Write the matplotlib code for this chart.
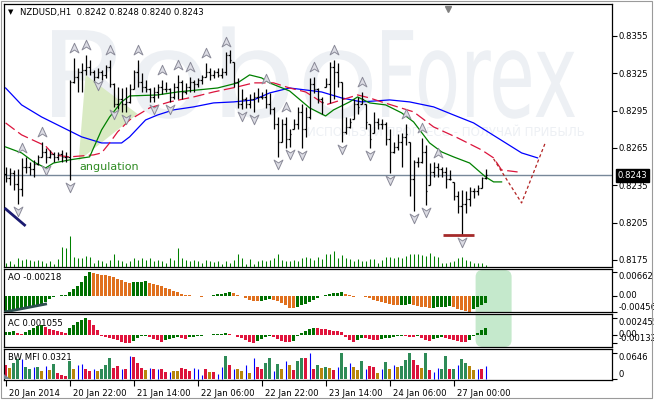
import numpy as np
import matplotlib
matplotlib.use("Agg")
import matplotlib.pyplot as plt
import matplotlib.transforms as mtransforms
from matplotlib.collections import LineCollection
from matplotlib.patches import Polygon, FancyBboxPatch, PathPatch
from matplotlib.textpath import TextPath
from matplotlib.font_manager import FontProperties
from matplotlib.path import Path

# ---------------- data ----------------
header = "NZDUSD,H1  0.8242 0.8248 0.8240 0.8243"
last_price = 0.8243
first_open = 0.8244

high = [.8250,.8249,.8247,.8248,.8257,.8258,.8254,.8255,.8259,.8270,
        .8265,.8263,.8262,.8262,.8263,.8262,.8320,.8337,.8329,.8333,
        .8340,.8336,.8328,.8329,.8328,.8332,.8336,.8317,.8314,.8313,
        .8314,.8316,.8328,.8336,.8325,.8320,.8313,.8314,.8316,.8320,
        .8318,.8313,.8317,.8324,.8320,.8317,.8322,.8320,.8321,.8324,
        .8333,.8329,.8328,.8329,.8329,.8342,.8344,.8334,.8321,.8312,
        .8306,.8308,.8310,.8313,.8310,.8312,.8309,.8298,.8290,.8288,
        .8290,.8280,.8288,.8298,.8300,.8298,.8321,.8322,.8313,.8306,
        .8321,.8334,.8336,.8333,.8318,.8290,.8289,.8304,.8306,.8310,
        .8300,.8284,.8294,.8289,.8288,.8286,.8280,.8270,.8276,.8277,
        .8284,.8270,.8255,.8258,.8273,.8267,.8253,.8254,.8253,.8250,
        .8250,.8247,.8238,.8230,.8231,.8230,.8234,.8233,.8235,.8242,
        .8248]
low = [.8238,.8235,.8231,.8220,.8226,.8245,.8243,.8242,.8251,.8258,
       .8253,.8257,.8254,.8255,.8254,.8254,.8239,.8317,.8310,.8310,
       .8324,.8324,.8318,.8321,.8320,.8321,.8314,.8298,.8296,.8294,
       .8294,.8301,.8312,.8314,.8310,.8310,.8302,.8302,.8305,.8308,
       .8310,.8302,.8304,.8304,.8304,.8308,.8310,.8310,.8314,.8316,
       .8322,.8320,.8321,.8322,.8321,.8324,.8333,.8314,.8297,.8296,
       .8297,.8297,.8294,.8302,.8304,.8297,.8292,.8280,.8258,.8270,
       .8265,.8266,.8280,.8280,.8265,.8274,.8288,.8309,.8301,.8292,
       .8314,.8301,.8304,.8314,.8270,.8276,.8281,.8288,.8292,.8300,
       .8280,.8265,.8277,.8280,.8280,.8267,.8245,.8261,.8263,.8250,
       .8267,.8226,.8214,.8250,.8253,.8219,.8235,.8242,.8242,.8242,
       .8233,.8239,.8223,.8213,.8195,.8213,.8218,.8225,.8227,.8233,
       .8240]
close = [.8241,.8245,.8236,.8232,.8250,.8250,.8248,.8252,.8258,.8262,
         .8258,.8260,.8258,.8260,.8258,.8258,.8318,.8322,.8326,.8328,
         .8330,.8326,.8322,.8326,.8324,.8330,.8316,.8300,.8304,.8300,
         .8302,.8312,.8326,.8318,.8314,.8312,.8306,.8310,.8314,.8312,
         .8312,.8306,.8314,.8318,.8310,.8314,.8318,.8316,.8320,.8322,
         .8326,.8324,.8326,.8324,.8326,.8340,.8336,.8318,.8300,.8304,
         .8300,.8304,.8306,.8306,.8306,.8300,.8296,.8284,.8270,.8284,
         .8272,.8276,.8284,.8294,.8280,.8290,.8316,.8312,.8304,.8302,
         .8316,.8330,.8326,.8318,.8278,.8282,.8286,.8300,.8298,.8304,
         .8286,.8272,.8286,.8284,.8284,.8272,.8262,.8266,.8270,.8274,
         .8276,.8240,.8254,.8254,.8262,.8230,.8246,.8250,.8248,.8246,
         .8240,.8240,.8226,.8218,.8220,.8224,.8230,.8230,.8233,.8241,
         .8243]
volume = [4,6,3,9,7,8,7,6,7,6, 4,6,3,8,20,19,31,10,9,9,
          11,10,4,7,6,4,7,13,7,6, 4,6,9,7,9,7,9,6,7,6,
          4,9,7,19,9,7,6,7,6,4, 7,6,5,6,3,6,4,7,13,9,
          3,8,3,6,7,6,7,9,13,7, 6,6,7,6,9,10,9,7,10,8,
          13,13,16,9,12,9,8,6,8,6, 6,8,8,4,7,10,10,9,10,9,
          11,13,13,13,12,11,14,11,10,4, 4,5,6,9,10,7,6,4,4,4, 2]

jaw_idx = [0,4,9,14,19,24,29,31,35,38,42,47,52,57,62,66,71,79,84,89,96,101,107,112,117,121,129,133]
jaw_val = [.83132,.82996,.82899,.82819,.82739,.82690,.82690,.82739,.82875,.82915,.82956,.82980,.83012,.83020,
           .83036,.83092,.83132,.83100,.83052,.83020,.83036,.83020,.82980,.82915,.82851,.82771,.82610,.82570]
teeth_idx = [0,4,10,12,16,22,24,26,28,31,36,41,47,52,58,62,67,71,75,77,80,84,88,91,94,98,102,107,113,119,122,124,128]
teeth_val = [.82851,.82755,.82666,.82594,.82578,.82594,.82610,.82690,.82779,.82875,.82972,.83020,.83060,.83100,
             .83141,.83173,.83173,.83132,.83100,.83060,.82996,.83036,.83076,.83052,.83020,.82980,.82940,.82819,
             .82731,.82634,.82570,.82473,.82457]
lips_idx = [0,4,7,10,12,16,21,24,26,29,31,38,43,48,53,58,61,64,66,71,76,80,82,86,88,91,95,99,102,106,109,112,116,118,120,122,124]
lips_val = [.82658,.82610,.82538,.82489,.82529,.82554,.82578,.82795,.82899,.83020,.83068,.83076,.83100,.83116,
            .83132,.83173,.83237,.83213,.83173,.83108,.82972,.82907,.82956,.83020,.83060,.83012,.82996,.82932,
            .82859,.82690,.82618,.82578,.82529,.82473,.82417,.82377,.82377]
forecast_idx = [122, 129, 135]
forecast_val = [.82562, .82208, .82698]

fractal_up = [4, 9, 17, 20, 26, 33, 39, 43, 46, 50, 55, 65, 70, 77, 82, 89, 100, 104, 108]
fractal_down = [3, 10, 16, 23, 27, 30, 37, 41, 59, 62, 68, 71, 74, 84, 91, 96, 102, 105, 114]

angulation_idx = [20, 18.25, 33]
angulation_val = [.83237, .82546, .82923]
trend_idx = [-0.25, 5]
trend_val = [.82167, .82023]
support_idx = [109.25, 117]
support_val = [.8195, .8195]

ao = np.array([-4.56,-4.45,-4.35,-4.2,-4.0,-3.8,-3.55,-3.3,-2.95,-2.5,
      -1.7,-1.0,-0.5,-0.15,0.1,0.3,0.9,1.8,2.8,3.8,
      5.6,6.62,6.4,6.1,5.9,5.8,5.5,5.2,4.8,4.4,
      4.0,3.7,3.8,3.9,4.0,4.1,3.6,3.3,3.0,2.7,
      2.3,1.8,1.4,1.0,0.6,0.3,0.1,-0.1,-0.2,-0.3,
      -0.2,0.0,0.2,0.4,0.6,0.8,0.9,0.7,0.3,-0.2,
      -0.8,-1.2,-1.5,-1.6,-1.4,-1.2,-1.0,-1.1,-1.6,-2.2,
      -2.8,-3.4,-3.6,-3.2,-2.8,-2.4,-1.8,-1.2,-0.6,-0.1,
      0.2,0.5,0.7,0.8,0.9,0.5,0.1,-0.3,-0.2,-0.1,
      -0.5,-0.8,-1.1,-1.4,-1.7,-2.0,-2.3,-2.6,-2.8,-2.7,
      -2.6,-2.5,-2.7,-2.9,-3.1,-3.3,-3.5,-3.4,-3.3,-3.2,
      -3.1,-3.0,-3.3,-3.7,-4.1,-4.4,-4.56,-3.9,-3.3,-2.8,
      -2.18]) * 1e-3
ac = np.array([0.40,0.45,0.50,0.20,0.10,0.35,0.65,1.00,1.25,1.50,
      1.10,0.90,0.70,0.55,0.35,0.20,1.00,1.50,1.95,2.25,
      2.455,2.25,1.50,0.65,-0.15,-0.35,-0.50,-0.65,-0.85,-1.05,
      -1.20,-1.32,-1.00,-0.45,-0.25,-0.15,-0.35,-0.65,-0.85,-1.05,
      -0.80,-0.60,-0.50,-0.40,-0.55,-0.65,-0.40,-0.30,-0.20,-0.15,
      -0.10,-0.05,0.05,0.10,0.15,0.20,0.15,-0.05,-0.35,-0.55,
      -0.85,-1.10,-1.25,-0.95,-0.65,-0.35,-0.20,-0.40,-0.70,-0.90,
      -1.05,-1.15,-0.90,-0.25,0.30,0.60,0.90,1.05,1.00,0.90,
      0.85,0.75,0.60,0.50,0.35,-0.35,-0.75,-1.05,-0.85,-0.45,
      -0.55,-0.65,-0.75,-0.85,-0.65,-0.55,-0.45,-0.35,-0.25,-0.20,
      -0.25,-0.30,-0.35,-0.25,-0.55,-0.75,-0.90,-0.70,-0.55,-0.40,
      -0.55,-0.70,-0.85,-0.95,-1.05,-1.10,-0.75,-0.20,0.25,0.70,
      1.055]) * 1e-3
mfi = [.0340,.0281,.0391,.0493,.0493,.0298,.0255,.0306,.0306,.0196,
       .0323,.0213,.0383,.0153,.0111,.0068,.0451,.0255,.0340,.0366,
       .0238,.0196,.0255,.0196,.0255,.0340,.0510,.0272,.0323,.0238,
       .0238,.0578,.0536,.0408,.0281,.0221,.0281,.0255,.0238,.0238,
       .0179,.0170,.0196,.0196,.0281,.0255,.0196,.0281,.0255,.0111,
       .0238,.0170,.0170,.0136,.0306,.0578,.0340,.0255,.0255,.0196,
       .0340,.0153,.0510,.0306,.0255,.0408,.0510,.0196,.0366,.0238,
       .0451,.0340,.0213,.0451,.0510,.0510,.0646,.0255,.0340,.0281,
       .0306,.0281,.0213,.0300,.0646,.0306,.0408,.0306,.0213,.0451,
       .0250,.0323,.0306,.0153,.0255,.0425,.0238,.0340,.0306,.0323,
       .0468,.0646,.0476,.0340,.0281,.0646,.0213,.0170,.0281,.0238,
       .0578,.0238,.0255,.0340,.0493,.0408,.0323,.0221,.0255,.0255,
       .0321]
mfi_kind = ("pbgguggugb" "ubgpppgbuu" "ppubgggppu" "pupppbupup" "pubbpppuuu"
            "pbpuugpubb" "ubuppggugb" "ubpggpupgb" "gbpuggubbg" "uppbugbubg"
            "ggppbgpuug" "gpguggbbup" "u")

price_ticks = [0.8175, 0.8205, 0.8235, 0.8265, 0.8295, 0.8325, 0.8355]
time_tick_idx = [0, 16, 32, 48, 64, 80, 96, 112]
time_tick_lbl = ["20 Jan 2014", "20 Jan 22:00", "21 Jan 14:00", "22 Jan 06:00",
                 "22 Jan 22:00", "23 Jan 14:00", "24 Jan 06:00", "27 Jan 00:00"]
ao_label, ac_label, mfi_label = "AO -0.00218", "AC 0.001055", "BW MFI 0.0321"
ao_ticks, ac_ticks, mfi_ticks = [0.00662, 0.0, -0.00456], [0.002455, 0.0, -0.00132], [0.0646, 0.0]
ao_tick_lbl = ["0.00662", "0.00", "-0.00456"]
ac_tick_lbl = ["0.002455", "0.00", "-0.00132"]
mfi_tick_lbl = ["0.0646", "0"]
highlight_range = (117.5, 126.5)
watermark_words = ["Robo", "Forex"]
tagline = "ИСПОЛЬЗУЙ ПРОГРЕСС - ПОЛУЧАЙ ПРИБЫЛЬ"

# ---------------- figure ----------------
W, H = 654, 400
fig = plt.figure(figsize=(W / 100, H / 100), dpi=100)
fig.patch.set_facecolor("white")
FS = 6.1

def rect(l, t, r, b):
    return [l / W, 1 - b / H, (r - l) / W, (b - t) / H]

ax = fig.add_axes(rect(4, 4, 612, 267))
ax_vol = ax.twinx()
ax_ao = fig.add_axes(rect(4, 269, 612, 312))
ax_ac = fig.add_axes(rect(4, 314, 612, 347))
ax_mfi = fig.add_axes(rect(4, 349, 612, 380))
XL = (-0.4, 151.6)

for a in (ax, ax_ao, ax_ac, ax_mfi):
    a.set_xlim(*XL)
    for s in a.spines.values():
        s.set_linewidth(0.9)
        s.set_color("black")
    a.yaxis.tick_right()
    a.yaxis.set_label_position("right")
    a.tick_params(axis="y", which="both", left=False, labelleft=False, right=True, labelright=True,
                  direction="out", length=3.5, width=0.8, labelsize=FS, pad=1.5)
for a in (ax, ax_ao, ax_ac):
    a.set_xticks([])

idx = np.arange(len(close))
high = np.array(high); low = np.array(low); close = np.array(close)
op = np.clip(np.r_[first_open, close[:-1]], low, high)

# ---- main panel ----
ax.set_ylim(0.81693, 0.83807)
ax.set_yticks(price_ticks)
ax.set_yticklabels([f"{v:.4f}" for v in price_ticks])

# watermark (two words, faint)
fp = FontProperties(family="DejaVu Sans")
for word, (x0px, x1px) in zip(watermark_words, [(52, 372), (382, 575)]):
    tp = TextPath((0, 0), word, size=100, prop=fp)
    ext = tp.get_extents()
    sx = (x1px - x0px) / ext.width
    sy = (117 - 30) / 73.0
    tr = (mtransforms.Affine2D().translate(-ext.x0, 0).scale(sx / W, sy / H)
          .translate(x0px / W, (H - 117) / H) + fig.transFigure)
    wm = PathPatch(tp, transform=tr, facecolor="#edf0f4", edgecolor="none", zorder=0)
    wm.set_clip_path(ax.patch)
    ax.add_artist(wm)
ax.text((307 - 4) / 608, (267 - 133) / 263, tagline,
        transform=ax.transAxes, fontsize=8.6, color="#edf0f4", va="center", ha="left", zorder=0)

# angulation triangle
ax.add_patch(Polygon(list(zip(angulation_idx, angulation_val)), closed=True,
                     facecolor="#d9eac3", edgecolor="none", zorder=1))
ax.text(18.5, 0.82472, "angulation", fontsize=8, color="#2e8b22", ha="left", va="baseline", zorder=6)

# price line
ax.axhline(last_price, color="#778899", lw=1.0, zorder=2)

# alligator lines
ax.plot(jaw_idx, jaw_val, color="#0000ff", lw=0.9, zorder=2.5)
ax.plot(teeth_idx, teeth_val, color="#dc143c", lw=0.9, ls=(0, (9, 3.5)), zorder=2.5)
ax.plot(lips_idx, lips_val, color="#008000", lw=0.9, zorder=2.5)
ax.plot(forecast_idx, forecast_val, color="#b22222", lw=0.9, ls=(0, (2.5, 2)), zorder=2.5)

# OHLC bars
segs = []
for i in idx:
    segs.append([(i, low[i]), (i, high[i])])
    segs.append([(i - 0.45, op[i]), (i, op[i])])
    segs.append([(i, close[i]), (i + 0.45, close[i])])
ax.add_collection(LineCollection(segs, colors="black", linewidths=0.9, zorder=3))

# trend and support objects
ax.plot(trend_idx, trend_val, color="#191970", lw=2.0, zorder=4, solid_capstyle="butt")
ax.plot(support_idx, support_val, color="#a52a2a", lw=2.0, zorder=4, solid_capstyle="butt")

# fractals
up_v = [(0, 1), (0.85, -0.85), (0, -0.3), (-0.85, -0.85), (0, 1)]
codes = [Path.MOVETO, Path.LINETO, Path.LINETO, Path.LINETO, Path.CLOSEPOLY]
up_m = Path(up_v, codes)
dn_m = Path([(x, -y) for x, y in up_v], codes)
tr_up = mtransforms.offset_copy(ax.transData, fig=fig, y=7.2, units="points")
tr_dn = mtransforms.offset_copy(ax.transData, fig=fig, y=-5.0, units="points")
ax.plot(fractal_up, high[fractal_up], ls="none", marker=up_m, ms=7.5, mfc="#dcdce4",
        mec="#8a8a98", mew=0.7, transform=tr_up, zorder=5)
ax.plot(fractal_down, low[fractal_down], ls="none", marker=dn_m, ms=7.5, mfc="#dcdce4",
        mec="#8a8a98", mew=0.7, transform=tr_dn, zorder=5)

# header
ax.text((11 - 4) / 608, (267 - 12) / 263, "▼", transform=ax.transAxes, fontsize=5,
        ha="center", va="center", color="black")
ax.text((20 - 4) / 608, (267 - 12) / 263, header, transform=ax.transAxes, fontsize=FS,
        ha="left", va="center", color="black")
# shift marker
ax.plot([110.5], [0.982], marker="v", ms=5, color="#808080",
        transform=mtransforms.blended_transform_factory(ax.transData, ax.transAxes),
        clip_on=False, zorder=6)

# current price label
ax.text((618 - 4) / 608, last_price, f"{last_price:.4f}",
        transform=mtransforms.blended_transform_factory(ax.transAxes, ax.transData),
        fontsize=FS, color="white", ha="left", va="center", clip_on=False, zorder=10,
        bbox=dict(boxstyle="square,pad=0.2", fc="black", ec="black"))

# volume
ax_vol.set_ylim(0, 263)
ax_vol.set_xlim(*XL)
ax_vol.axis("off")
ax_vol.vlines(idx, 0, volume, color="#008000", lw=0.75)

# ---- AO ----
ao_col = ["#007000" if (i == 0 or ao[i] > ao[i - 1]) else "#e0701e" for i in idx]
ax_ao.set_ylim(-0.00465, 0.00758)
fig.canvas.draw()

def add_highlight(a, top_px, bottom_px):
    x0 = a.transData.transform((highlight_range[0], 0))[0]
    x1 = a.transData.transform((highlight_range[1], 0))[0]
    p = FancyBboxPatch((x0, H - bottom_px), x1 - x0, bottom_px - top_px,
                       boxstyle="round,pad=0,rounding_size=7",
                       transform=mtransforms.IdentityTransform(),
                       facecolor="#c5e9cc", edgecolor="none", zorder=0.5)
    p.set_clip_path(a.patch)
    a.add_artist(p)

add_highlight(ax_ao, 270, 347)
add_highlight(ax_ac, 270, 347)
ax_ao.bar(idx, ao, width=0.72, color=ao_col, zorder=2)
ax_ao.plot([0, 10], [-0.0046, -0.0024], color="#2f4f4f", lw=2, zorder=3)
ax_ao.set_yticks(ao_ticks)
ax_ao.set_yticklabels(ao_tick_lbl)
ax_ao.text((8 - 4) / 608, (312 - 278) / 43, ao_label, transform=ax_ao.transAxes,
           fontsize=FS, va="center", ha="left")

# ---- AC ----
ac_col = ["#007000" if (i == 0 or ac[i] > ac[i - 1]) else "#e0143c" for i in idx]
ax_ac.set_ylim(-0.00185, 0.0031)
ax_ac.bar(idx, ac, width=0.72, color=ac_col, zorder=2)
ax_ac.set_yticks(ac_ticks)
ax_ac.set_yticklabels(ac_tick_lbl)
ax_ac.text((8 - 4) / 608, (347 - 324) / 33, ac_label, transform=ax_ac.transAxes,
           fontsize=FS, va="center", ha="left")

# ---- BW MFI ----
kind_col = {"g": "#2e8b57", "b": "#b8860b", "p": "#dc143c", "u": "#0000ff"}
ax_mfi.set_ylim(-0.0025, 0.0745)
mfi_arr = np.array(mfi)
thick = np.array([k != "u" for k in mfi_kind])
ax_mfi.bar(idx[thick], mfi_arr[thick], width=0.72,
           color=[kind_col[k] for k in mfi_kind if k != "u"], zorder=2)
ax_mfi.vlines(idx[~thick], 0, mfi_arr[~thick], color="#0000ff", lw=0.8, zorder=2)
ax_mfi.add_patch(Polygon([(-0.4, 0), (-0.4, 0.012), (1.2, 0)], closed=True,
                         facecolor="#708090", edgecolor="none", zorder=3))
ax_mfi.set_yticks(mfi_ticks)
ax_mfi.set_yticklabels(mfi_tick_lbl)
ax_mfi.text((8 - 4) / 608, (380 - 357) / 31, mfi_label, transform=ax_mfi.transAxes,
            fontsize=FS, va="center", ha="left")
ax_mfi.set_xticks(time_tick_idx)
ax_mfi.set_xticklabels(time_tick_lbl)
ax_mfi.tick_params(axis="x", direction="out", length=4, width=0.8, labelsize=FS, pad=2.5)
shift = mtransforms.ScaledTranslation(3 / 100, 0, fig.dpi_scale_trans)
for lbl in ax_mfi.get_xticklabels():
    lbl.set_horizontalalignment("left")
    lbl.set_transform(lbl.get_transform() + shift)

# subpanel tick label alignment
for a, vas in ((ax_ao, ["top", "center", "bottom"]),
               (ax_ac, ["top", "center", "bottom"]),
               (ax_mfi, ["top", "bottom"])):
    for lbl, va in zip(a.get_yticklabels(), vas):
        lbl.set_verticalalignment(va)

# outer frame
fig.add_artist(plt.Rectangle((1 / W, 2 / H), 651 / W, 397 / H, transform=fig.transFigure,
                             fill=False, edgecolor="#9a9a9a", lw=0.8))

fig.savefig("out.png", dpi=100, facecolor="white")
